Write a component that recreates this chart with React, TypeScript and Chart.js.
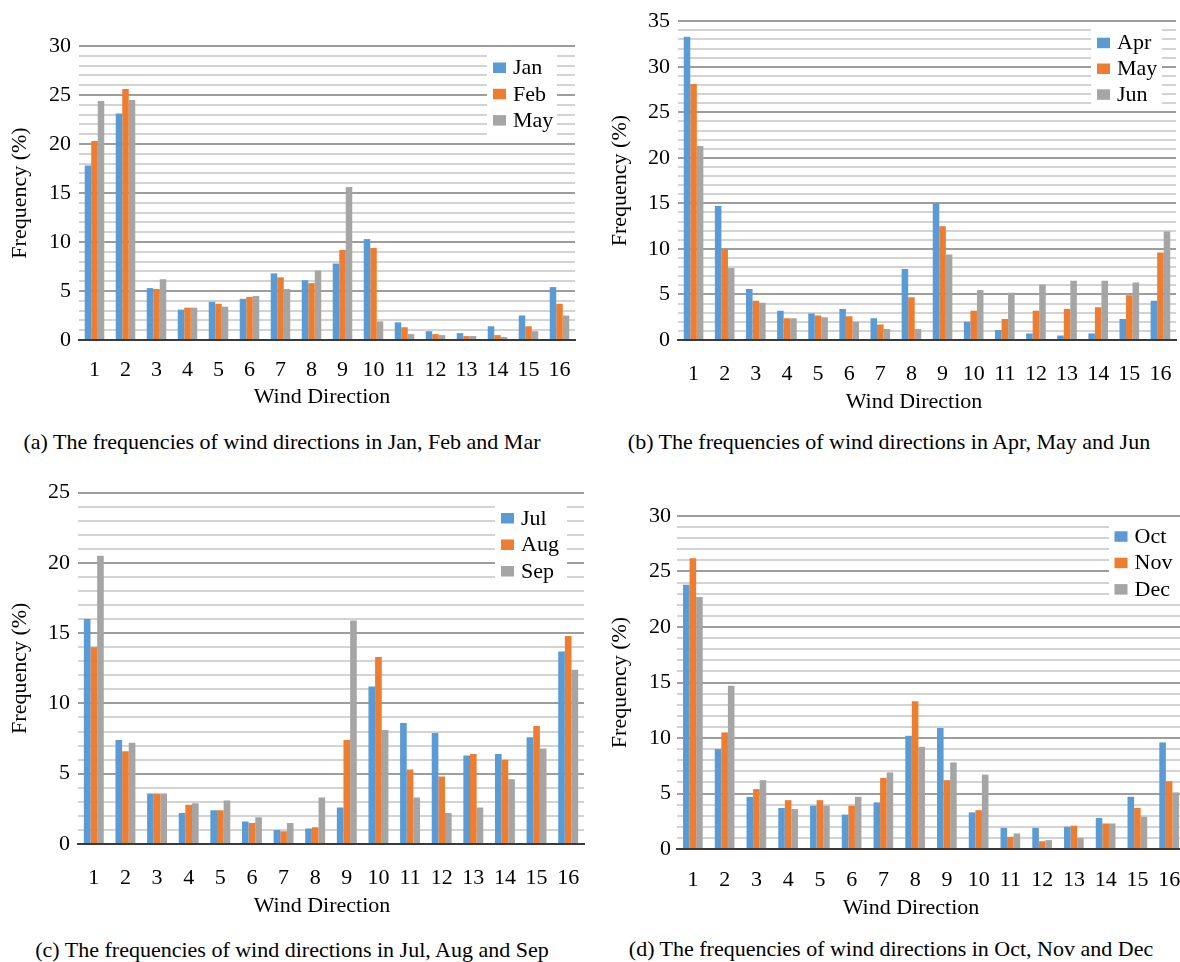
import React, { useEffect, useRef } from 'react';
import { Chart, registerables } from 'chart.js';

Chart.register(...registerables);

const FONT = "'Liberation Serif', 'Times New Roman', 'DejaVu Serif', serif";

// ---------- data ----------
const directions = ['1', '2', '3', '4', '5', '6', '7', '8', '9', '10', '11', '12', '13', '14', '15', '16'];

const janValues = [17.8, 23.1, 5.3, 3.1, 3.9, 4.2, 6.8, 6.1, 7.8, 10.3, 1.8, 0.9, 0.7, 1.4, 2.5, 5.4];
const febValues = [20.3, 25.6, 5.2, 3.3, 3.7, 4.4, 6.4, 5.8, 9.2, 9.4, 1.3, 0.6, 0.4, 0.5, 1.4, 3.7];
const marValues = [24.4, 24.5, 6.2, 3.3, 3.4, 4.5, 5.2, 7.1, 15.6, 1.9, 0.6, 0.5, 0.4, 0.3, 0.9, 2.5];

const aprValues = [33.3, 14.7, 5.6, 3.2, 2.9, 3.4, 2.4, 7.8, 15.0, 2.0, 1.1, 0.7, 0.5, 0.7, 2.3, 4.3];
const mayValues = [28.1, 10.0, 4.3, 2.4, 2.7, 2.6, 1.7, 4.7, 12.5, 3.2, 2.3, 3.2, 3.4, 3.6, 4.9, 9.6];
const junValues = [21.3, 7.9, 4.1, 2.4, 2.5, 2.0, 1.2, 1.2, 9.4, 5.5, 5.2, 6.1, 6.5, 6.5, 6.3, 11.9];

const julValues = [16.0, 7.4, 3.6, 2.2, 2.4, 1.6, 1.0, 1.1, 2.6, 11.2, 8.6, 7.9, 6.3, 6.4, 7.6, 13.7];
const augValues = [14.0, 6.6, 3.6, 2.8, 2.4, 1.5, 0.9, 1.2, 7.4, 13.3, 5.3, 4.8, 6.4, 6.0, 8.4, 14.8];
const sepValues = [20.5, 7.2, 3.6, 2.9, 3.1, 1.9, 1.5, 3.3, 15.9, 8.1, 3.3, 2.2, 2.6, 4.6, 6.8, 12.4];

const octValues = [23.8, 9.0, 4.7, 3.7, 3.9, 3.1, 4.2, 10.2, 10.9, 3.3, 1.9, 1.9, 2.0, 2.8, 4.7, 9.6];
const novValues = [26.2, 10.5, 5.4, 4.4, 4.4, 3.9, 6.4, 13.3, 6.2, 3.5, 1.1, 0.7, 2.1, 2.3, 3.7, 6.1];
const decValues = [22.7, 14.7, 6.2, 3.6, 3.9, 4.7, 6.9, 9.2, 7.8, 6.7, 1.4, 0.8, 1.0, 2.3, 2.9, 5.1];

const legendA = ['Jan', 'Feb', 'May'];
const legendB = ['Apr', 'May', 'Jun'];
const legendC = ['Jul', 'Aug', 'Sep'];
const legendD = ['Oct', 'Nov', 'Dec'];

const captionA = '(a) The frequencies of wind directions in Jan, Feb and Mar';
const captionB = '(b) The frequencies of wind directions in Apr, May and Jun';
const captionC = '(c) The frequencies of wind directions in Jul, Aug and Sep';
const captionD = '(d) The frequencies of wind directions in Oct, Nov and Dec';

const xTitle = 'Wind Direction';
const yTitle = 'Frequency (%)';

const COLORS = ['#5B9BD5', '#ED7D31', '#A5A5A5'];

Chart.defaults.font.family = FONT;
Chart.defaults.font.size = 22;
Chart.defaults.color = '#000';

// ---------- legend drawn inside the plot ----------
const insideLegend = {
  id: 'insideLegend',
  beforeDatasetsDraw(chart: any, _args: any, opts: any) {
    if (!opts || !opts.box) return;
    const { ctx } = chart;
    ctx.save();
    ctx.fillStyle = '#ffffff';
    ctx.fillRect(opts.box.x, opts.box.y, opts.box.w, opts.box.h);
    ctx.font = `22px ${FONT}`;
    ctx.textBaseline = 'middle';
    ctx.textAlign = 'left';
    chart.data.datasets.forEach((ds: any, i: number) => {
      const cy = opts.firstY + i * opts.gap;
      ctx.fillStyle = ds.backgroundColor;
      ctx.fillRect(opts.keyX, cy - 5, 13, 10.5);
      ctx.fillStyle = '#000000';
      ctx.fillText(ds.label, opts.keyX + 20, cy + 1);
    });
    ctx.restore();
  },
};

// ---------- x-axis title placed like the original (slightly left of centre) ----------
const xAxisTitle = {
  id: 'xAxisTitle',
  afterDraw(chart: any, _args: any, opts: any) {
    if (!opts || opts.cx == null) return;
    const { ctx } = chart;
    ctx.save();
    ctx.font = `22px ${FONT}`;
    ctx.fillStyle = '#000';
    ctx.textAlign = 'center';
    ctx.textBaseline = 'middle';
    ctx.fillText(opts.text, opts.cx, opts.cy);
    ctx.restore();
  },
};

type Spec = {
  left: number; top: number; w: number; h: number;
  padTop: number; padRight: number;
  yAxisW: number; xAxisH: number;
  xTickPad: number; yTickPad: number; yTitlePad: number;
  yMax: number; catPct: number;
  xTitleCx: number; xTitleCy: number;
  series: number[][]; names: string[];
  legend: { bx: number; by: number; bw: number; bh: number; keyX: number; firstY: number; gap: number };
};

function buildChart(canvas: HTMLCanvasElement, spec: Spec) {
  const tickFont = { family: FONT, size: 22 };
  const lg = spec.legend;
  return new Chart(canvas, {
    type: 'bar',
    data: {
      labels: directions,
      datasets: spec.series.map((vals, i) => ({
        label: spec.names[i],
        data: vals,
        backgroundColor: COLORS[i],
        borderWidth: 0,
        categoryPercentage: spec.catPct,
        barPercentage: 1,
      })),
    },
    options: {
      responsive: false,
      animation: false,
      devicePixelRatio: 1,
      layout: { padding: { top: spec.padTop, right: spec.padRight, left: 0, bottom: 0 } },
      plugins: {
        legend: { display: false },
        tooltip: { enabled: false },
        insideLegend: {
          box: { x: lg.bx - spec.left, y: lg.by - spec.top, w: lg.bw, h: lg.bh },
          keyX: lg.keyX - spec.left,
          firstY: lg.firstY - spec.top,
          gap: lg.gap,
        },
        xAxisTitle: {
          text: xTitle,
          cx: spec.xTitleCx - spec.left,
          cy: spec.xTitleCy - spec.top,
        },
      } as any,
      scales: {
        x: {
          grid: { display: false },
          border: { display: true, color: '#3a3a3a', width: 2 },
          ticks: { autoSkip: false, maxRotation: 0, padding: spec.xTickPad, color: '#000', font: tickFont },
          title: { display: false },
          afterFit: (s: any) => { s.height = spec.xAxisH; },
        },
        y: {
          min: 0,
          max: spec.yMax,
          ticks: {
            stepSize: 1,
            autoSkip: false,
            padding: spec.yTickPad,
            color: '#000',
            font: tickFont,
            callback: (v: any) => (Number(v) % 5 === 0 ? String(v) : ''),
          },
          grid: {
            drawTicks: false,
            color: (c: any) => {
              const v = c.tick ? c.tick.value : 1;
              if (v === 0) return '#3a3a3a';
              return v % 5 === 0 ? '#9d9d9d' : '#d3d3d3';
            },
            lineWidth: 2,
          },
          border: { display: false },
          title: { display: true, text: yTitle, color: '#000', font: tickFont, padding: { top: spec.yTitlePad, bottom: 0 } },
          afterFit: (s: any) => { s.width = spec.yAxisW; },
        },
      },
    } as any,
    plugins: [insideLegend as any, xAxisTitle as any],
  });
}

function Panel({ spec }: { spec: Spec }) {
  const ref = useRef<HTMLCanvasElement>(null);
  useEffect(() => {
    const canvas = ref.current;
    if (!canvas) return;
    let chart: Chart | null = null;
    let cancelled = false;
    const make = () => {
      if (cancelled || chart) return;
      chart = buildChart(canvas, spec);
    };
    const fonts: any = (document as any).fonts;
    if (fonts && fonts.load) {
      Promise.all([
        fonts.load("22px 'Liberation Serif'"),
        fonts.load("22px 'Times New Roman'"),
      ]).then(make, make);
    } else {
      make();
    }
    return () => {
      cancelled = true;
      if (chart) chart.destroy();
    };
  }, []);
  return (
    <canvas
      ref={ref}
      width={spec.w}
      height={spec.h}
      style={{ position: 'absolute', left: spec.left, top: spec.top, width: spec.w, height: spec.h }}
    />
  );
}

const specA: Spec = {
  left: 0, top: 20, w: 587, h: 390, padTop: 26, padRight: 12,
  yAxisW: 79, xAxisH: 70, xTickPad: 9.5, yTickPad: 8, yTitlePad: 7,
  yMax: 30, catPct: 0.63, xTitleCx: 322, xTitleCy: 397,
  series: [janValues, febValues, marValues], names: legendA,
  legend: { bx: 487, by: 52, bw: 70, bh: 86, keyX: 493, firstY: 67.5, gap: 26.3 },
};
const specB: Spec = {
  left: 590, top: 0, w: 598, h: 415, padTop: 15, padRight: 12,
  yAxisW: 88, xAxisH: 75, xTickPad: 13, yTickPad: 8, yTitlePad: 17,
  yMax: 35, catPct: 0.63, xTitleCx: 914, xTitleCy: 402,
  series: [aprValues, mayValues, junValues], names: legendB,
  legend: { bx: 1091, by: 28, bw: 71, bh: 76, keyX: 1097, firstY: 42.7, gap: 25.8 },
};
const specC: Spec = {
  left: 0, top: 470, w: 596, h: 449, padTop: 22.5, padRight: 12,
  yAxisW: 78, xAxisH: 75, xTickPad: 13, yTickPad: 8, yTitlePad: 7,
  yMax: 25, catPct: 0.63, xTitleCx: 322, xTitleCy: 906,
  series: [julValues, augValues, sepValues], names: legendC,
  legend: { bx: 495, by: 500, bw: 72, bh: 85, keyX: 501, firstY: 518, gap: 26.5 },
};
const specD: Spec = {
  left: 590, top: 495, w: 607, h: 426, padTop: 21, padRight: 12,
  yAxisW: 87, xAxisH: 72, xTickPad: 10, yTickPad: 6, yTitlePad: 17,
  yMax: 30, catPct: 0.62, xTitleCx: 911, xTitleCy: 908,
  series: [octValues, novValues, decValues], names: legendD,
  legend: { bx: 1109, by: 526, bw: 75, bh: 78, keyX: 1114.5, firstY: 536.3, gap: 26.4 },
};

function Caption({ text, cx, cy }: { text: string; cx: number; cy: number }) {
  return (
    <div
      style={{
        position: 'absolute', left: cx - 320, width: 640, top: cy - 13,
        lineHeight: '26px', fontSize: 22, fontFamily: FONT, textAlign: 'center',
        color: '#000', whiteSpace: 'nowrap',
      }}
    >
      {text}
    </div>
  );
}

export default function App() {
  return (
    <div style={{ position: 'fixed', left: 0, top: 0, width: 1180, height: 962, overflow: 'hidden', background: '#fff', fontFamily: FONT }}>
      <Panel spec={specA} />
      <Panel spec={specB} />
      <Panel spec={specC} />
      <Panel spec={specD} />
      <Caption text={captionA} cx={282} cy={441.7} />
      <Caption text={captionB} cx={889} cy={441.7} />
      <Caption text={captionC} cx={292} cy={950} />
      <Caption text={captionD} cx={891} cy={949} />
    </div>
  );
}
